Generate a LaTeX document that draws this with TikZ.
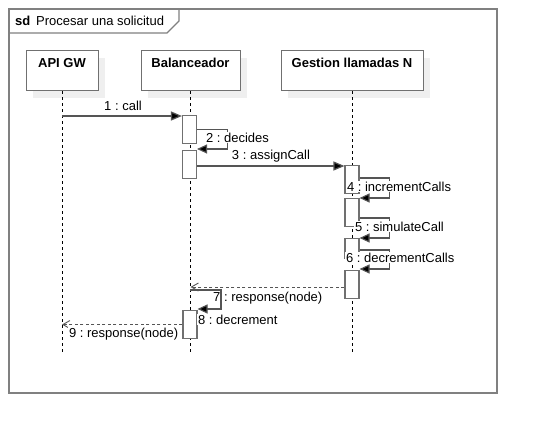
\documentclass[tikz,border=0pt]{standalone}
\usepackage{fontspec}
\setmainfont{Liberation Sans}
\usetikzlibrary{arrows.meta,shadows}
\definecolor{framegray}{HTML}{808080}
\definecolor{boxgray}{HTML}{707070}
\definecolor{msggray}{HTML}{555555}
\definecolor{shadowgray}{HTML}{EFEFEF}
\frenchspacing

\begin{document}
\begin{tikzpicture}[x=1pt,y=-1pt,
  every node/.style={font=\fontsize{13}{15}\selectfont},
  frame/.style={draw=framegray, line width=1.3pt},
  head/.style={draw=boxgray, line width=1pt, fill=white, inner sep=0pt,
    text height=17pt, text depth=23pt,
    font=\fontsize{13}{15}\selectfont\bfseries,
    general shadow={fill=shadowgray, shadow xshift=7pt, shadow yshift=-7pt}},
  lifeline/.style={draw=black, line width=0.9pt, dash pattern=on 3pt off 3pt},
  act/.style={draw=boxgray, line width=1.1pt, fill=white, minimum width=14pt,
    minimum height=28pt, inner sep=0pt},
  msg/.style={draw=msggray, line width=1.2pt, -{Triangle[length=11pt,width=9pt,fill=black]}},
  selfmsg/.style={draw=msggray, line width=1.1pt, -{Triangle[length=10pt,width=9pt,fill=black]}},
  ret/.style={draw=msggray, line width=1pt, dash pattern=on 3pt off 2.5pt,
    -{Straight Barb[length=7pt,width=8pt,line width=0.9pt]}},
  lbl/.style={fill=white, inner sep=0.8pt},
]
\useasboundingbox[fill=white] (0,0) rectangle (538,434);

% interaction frame with its name tab
\draw[frame] (9,9) rectangle (497,393);
\draw[frame] (9,33) -- (167,33) -- (179,21) -- (179,9);
\node[anchor=base west, inner sep=0pt, font=\fontsize{13}{15}\selectfont\bfseries] (sd) at (15,25.5) {sd};
\node[anchor=base west, inner sep=0pt] (title) at (36,25.5) {Procesar una solicitud};

% participants
\node[head, minimum width=72pt, anchor=north] (api) at (62,50) {API GW};
\node[head, minimum width=99pt, anchor=north] (bal) at (190.5,50) {Balanceador};
\node[head, minimum width=142pt, anchor=north] (ges) at (352,50) {Gestion llamadas N};

\coordinate (apiend) at (62,352);
\coordinate (balend) at (190.5,352);
\coordinate (gesend) at (352,352);
\draw[lifeline] (api.south) -- (apiend);
\draw[lifeline] (bal.south) -- (balend);
\draw[lifeline] (ges.south) -- (gesend);

% activation bars
\node[act, anchor=north] (b1) at (189.5,115) {};
\node[act, anchor=north] (b2) at (189.5,150) {};
\node[act, anchor=north] (g1) at (352,165) {};
\node[act, anchor=north] (g2) at (352,198) {};
\node[act, anchor=north, minimum height=20pt] (g3) at (352,238) {};
\node[act, anchor=north] (g4) at (352,270) {};
\node[act, anchor=north] (b3) at (190,310) {};

% 1 : call
\coordinate (m1) at ([yshift=-1pt]b1.north west);
\draw[msg] (api |- m1) -- (m1);
\node[anchor=base, inner sep=0pt] (l1) at (123,110.5) {1 : call};

% 2 : decides
\draw[selfmsg] (b1.east) -- ++(30,0) |- ([yshift=1pt]b2.north east);
\node[lbl, anchor=base west] (l2) at (205,142.5) {2 : decides};

% 3 : assignCall
\coordinate (m3) at ([yshift=-1pt]g1.north west);
\draw[msg] (b2.east |- m3) -- (m3);
\node[anchor=base, inner sep=0pt] (l3) at (271,159.5) {3 : assignCall};

% 4 : incrementCalls
\coordinate (s4) at ([yshift=-13pt]g1.north east);
\draw[selfmsg] (s4) -- ++(30,0) |- (g2.north east);
\node[lbl, anchor=base west] (l4) at (346,191.5) {4 : incrementCalls};

% 5 : simulateCall
\coordinate (s5) at ([yshift=-20pt]g2.north east);
\draw[selfmsg] (s5) -- ++(30,0) |- (g3.north east);
\node[lbl, anchor=base west] (l5) at (354,231.5) {5 : simulateCall};

% 6 : decrementCalls
\coordinate (s6) at ([yshift=-12pt]g3.north east);
\draw[selfmsg] (s6) -- ++(30,0) |- ([yshift=1pt]g4.north east);
\node[lbl, anchor=base west] (l6) at (345,262.5) {6 : decrementCalls};

% 7 : response(node)
\coordinate (m7) at ([yshift=-17pt]g4.north west);
\draw[ret] (m7) -- (m7 -| bal.south);
\node[anchor=base west, inner sep=0pt] (l7) at (213,301.5) {7 : response(node)};

% 8 : decrement
\coordinate (s8) at ([yshift=20pt]b3.north);
\draw[selfmsg] (s8) -- ++(31,0) |- ([yshift=1pt]b3.north east);
\node[lbl, anchor=base west] (l8) at (197,324.5) {8 : decrement};

% 9 : response(node)
\draw[ret] (b3.west) -- (b3.west -| api);
\node[lbl, anchor=base west] (l9) at (68,337.5) {9 : response(node)};
\end{tikzpicture}
\end{document}
